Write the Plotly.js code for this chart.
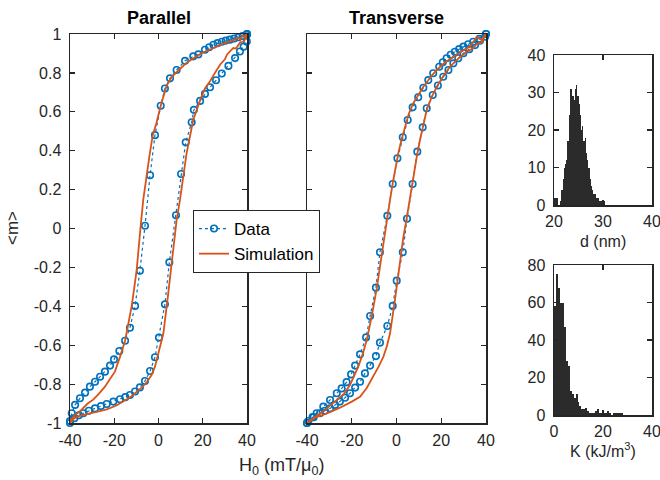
<!DOCTYPE html>
<html>
<head>
<meta charset="utf-8">
<script src="https://cdn.plot.ly/plotly-3.0.1.min.js"></script>
<style>html,body{margin:0;padding:0;background:#fff;}#chart{width:660px;height:480px;}</style>
</head>
<body>
<div id="chart"></div>
<script>
// ---------- Parallel: measured data ----------
var parDescH = [40, 39.9, 38, 36.1, 34.2, 32.3, 30.4, 28.6, 26.7, 24.8, 22.9, 21, 18, 15.7, 12, 8.2, 5.2, 2.9, 1.0, -1.6, -3.8, -6.1, -8.4, -10.6, -12.9, -15.1, -17.7, -20.1, -21.9, -24.2, -26.4, -28.7, -31, -33.2, -35.5, -37.7, -39.2, -40];
var parDescM = [1.0, 0.995, 0.99, 0.983, 0.977, 0.971, 0.966, 0.96, 0.953, 0.945, 0.932, 0.919, 0.895, 0.885, 0.862, 0.815, 0.772, 0.72, 0.631, 0.48, 0.274, 0.014, -0.217, -0.398, -0.51, -0.577, -0.63, -0.673, -0.705, -0.736, -0.762, -0.788, -0.813, -0.844, -0.873, -0.907, -0.95, -0.99];
var parAscH = [-40, -38, -36, -34, -31.5, -28.7, -26, -23.4, -20.4, -17.4, -15, -12.9, -10.6, -8.4, -6.1, -3.8, -1.6, 0.2, 2.9, 4.9, 7.9, 10.2, 12.3, 15, 16, 18.8, 21, 23.3, 26, 28.6, 31.6, 34.6, 36.8, 38.5, 39.9, 40];
var parAscM = [-1.0, -0.975, -0.96, -0.95, -0.937, -0.925, -0.913, -0.902, -0.89, -0.878, -0.867, -0.856, -0.838, -0.817, -0.784, -0.733, -0.662, -0.561, -0.39, -0.174, 0.068, 0.28, 0.443, 0.546, 0.61, 0.656, 0.692, 0.726, 0.762, 0.797, 0.836, 0.876, 0.91, 0.935, 0.962, 1.0];
// ---------- Parallel: simulation ----------
var parSimDescH = [40, 39, 38, 37, 36, 34, 32.3, 30, 28, 24.8, 20, 17.2, 13, 9.7, 6, 3.7, 1.0, -1.0, -2.6, -4, -5.3, -6.9, -8.05, -9.9, -12.1, -14.1, -15.1, -17.4, -19.7, -22, -24.2, -27, -29.5, -32, -35.5, -38, -40];
var parSimDescM = [1.0, 0.985, 0.992, 0.972, 0.982, 0.968, 0.962, 0.955, 0.945, 0.928, 0.905, 0.885, 0.855, 0.82, 0.78, 0.735, 0.631, 0.54, 0.48, 0.38, 0.274, 0.147, 0.014, -0.217, -0.398, -0.51, -0.577, -0.66, -0.736, -0.775, -0.813, -0.85, -0.88, -0.9, -0.94, -0.962, -0.99];
var parSimAscH = [-40, -38, -36, -33, -31, -27, -23.4, -19, -15.9, -12.5, -9.9, -7.5, -5.3, -3.2, -1.6, 0.7, 2.2, 4.4, 6.4, 8.2, 9.7, 10.5, 12.7, 15.7, 18.8, 21, 23.3, 25.5, 27.8, 30, 31, 33.8, 35, 37, 38.5, 39.9, 40];
var parSimAscM = [-1.0, -0.975, -0.965, -0.958, -0.95, -0.94, -0.93, -0.91, -0.89, -0.865, -0.84, -0.817, -0.79, -0.755, -0.71, -0.608, -0.54, -0.333, -0.128, 0.044, 0.147, 0.215, 0.387, 0.558, 0.66, 0.72, 0.757, 0.8, 0.842, 0.87, 0.895, 0.928, 0.925, 0.958, 0.96, 0.988, 1.0];
// ---------- Transverse: measured data ----------
var trDescH = [40, 37, 34.3, 32, 29.9, 28, 26.1, 24.2, 22.4, 20.7, 19.1, 16.4, 14.2, 12, 9.7, 7.2, 5, 2.8, 0.4, -1.7, -4.1, -7.4, -9.2, -11.8, -13.6, -16.3, -18.5, -20.3, -22.3, -24.5, -26.7, -29.7, -32.7, -35.7, -37.5, -39.4, -40];
var trDescM = [1.0, 0.975, 0.96, 0.947, 0.935, 0.922, 0.909, 0.893, 0.875, 0.855, 0.832, 0.798, 0.763, 0.724, 0.675, 0.623, 0.558, 0.469, 0.361, 0.229, 0.065, -0.122, -0.304, -0.45, -0.56, -0.647, -0.705, -0.75, -0.79, -0.822, -0.847, -0.882, -0.916, -0.95, -0.97, -0.99, -1.0];
var trAscH = [-40, -37, -34.2, -32, -29.7, -27.5, -25.3, -23, -20.8, -18.5, -16.3, -14.1, -11.8, -9.2, -7.4, -4.1, -1.7, 0.1, 2.8, 4.7, 7.2, 9.3, 11.7, 13.5, 16.2, 18.5, 20.9, 23.2, 25.4, 27.6, 29.9, 32.5, 35.1, 37.3, 39.6, 40];
var trAscM = [-1.0, -0.97, -0.95, -0.937, -0.925, -0.907, -0.89, -0.87, -0.847, -0.818, -0.788, -0.745, -0.705, -0.656, -0.587, -0.501, -0.398, -0.268, -0.122, 0.05, 0.229, 0.395, 0.52, 0.618, 0.686, 0.735, 0.78, 0.815, 0.849, 0.875, 0.901, 0.922, 0.943, 0.965, 0.986, 1.0];
// ---------- Transverse: simulation ----------
var trSimDescH = [40, 38, 36, 34, 32.8, 29, 25.4, 21.5, 18, 15, 12, 9.5, 7.5, 5.5, 3.8, 2.2, 0.8, -0.5, -1.7, -3, -4.1, -5.4, -6.6, -7.7, -8.8, -10, -11.1, -13.3, -15.2, -17.1, -19, -20.8, -23.5, -26, -29, -32.7, -36, -40];
var trSimDescM = [1.0, 0.97, 0.985, 0.95, 0.935, 0.91, 0.883, 0.852, 0.815, 0.775, 0.729, 0.685, 0.644, 0.59, 0.523, 0.455, 0.387, 0.31, 0.232, 0.14, 0.06, -0.035, -0.128, -0.22, -0.307, -0.385, -0.453, -0.573, -0.65, -0.71, -0.762, -0.805, -0.85, -0.875, -0.905, -0.94, -0.965, -1.0];
var trSimAscH = [-40, -36, -32, -28, -25, -20, -16.3, -13.3, -10.4, -8, -5.9, -4.3, -2.9, -1.8, -0.7, 0.5, 1.6, 3, 4.5, 6, 7.5, 9, 10.5, 12, 13.5, 15.7, 18, 21, 23.9, 27.5, 31.4, 34, 36, 38, 39.6, 40];
var trSimAscM = [-1.0, -0.97, -0.955, -0.935, -0.92, -0.89, -0.865, -0.82, -0.762, -0.71, -0.66, -0.605, -0.54, -0.46, -0.368, -0.265, -0.162, -0.05, 0.05, 0.16, 0.266, 0.365, 0.455, 0.535, 0.609, 0.675, 0.729, 0.785, 0.832, 0.872, 0.909, 0.925, 0.95, 0.955, 0.986, 1.0];
// ---------- Histogram of d (nm) ----------
var dBinWidth = 0.25;
var dBinStart = [20, 20.25, 20.5, 20.75, 21, 21.25, 21.5, 21.75, 22, 22.25, 22.5, 22.75, 23, 23.25, 23.5, 23.75, 24, 24.25, 24.5, 24.75, 25, 25.25, 25.5, 25.75, 26, 26.25, 26.5, 26.75, 27, 27.25, 27.5, 27.75, 28, 28.25, 28.5, 28.75, 29, 29.25, 29.5, 29.75, 30, 30.25];
var dCounts =   [2, 2, 2, 0, 0, 1, 4, 7, 10, 11, 12, 17, 24, 31, 31, 29, 28, 31, 32, 29, 27, 24, 20, 21, 17, 18, 14, 12, 10, 7, 5, 4, 3, 3, 2, 2, 2, 1, 1, 1, 1, 1];
// ---------- Histogram of K (kJ/m^3) ----------
var kBinWidth = 0.8;
var kBinStart = [0, 0.8, 1.6, 2.4, 3.2, 4.0, 4.8, 5.6, 6.4, 7.2, 8.0, 8.8, 9.6, 10.4, 11.2, 12.0, 12.8, 13.6, 14.4, 15.2, 16.0, 16.8, 17.6, 18.4, 19.2, 20.0, 20.8, 21.6, 22.4, 23.2, 24.0, 24.8, 25.6, 26.4, 27.2];
var kCounts =   [58, 75, 68, 60, 60, 47, 29, 26, 13, 11, 9, 11, 7, 5, 3, 3, 4, 2, 1, 1, 1, 2, 3, 1, 1, 1, 1, 2, 1, 0, 1, 1, 1, 1, 1];
// ---------- Tick labels ----------
var hTickVals = [-40, -20, 0, 20, 40];
var hTickText = ['-40', '-20', '0', '20', '40'];
var mTickVals = [-1, -0.8, -0.6, -0.4, -0.2, 0, 0.2, 0.4, 0.6, 0.8, 1];
var mTickText = ['-1', '-0.8', '-0.6', '-0.4', '-0.2', '0', '0.2', '0.4', '0.6', '0.8', '1'];
var dTickVals = [20, 30, 40];
var dTickText = ['20', '30', '40'];
var dCountTicks = [0, 10, 20, 30, 40];
var dCountText = ['0', '10', '20', '30', '40'];
var kTickVals = [0, 20, 40];
var kTickText = ['0', '20', '40'];
var kCountTicks = [0, 20, 40, 60, 80];
var kCountText = ['0', '20', '40', '60', '80'];

var BLUE = '#0072BD', ORANGE = '#D95319', AX = '#262626';
var FONT = 'Liberation Sans, Arial, Helvetica, sans-serif';

function dataTrace(h1, m1, h2, m2, xa, ya, show) {
  return {x: h1.concat(h2), y: m1.concat(m2), xaxis: xa, yaxis: ya, type: 'scatter', mode: 'lines+markers',
    name: 'Data', showlegend: show, cliponaxis: false,
    line: {color: BLUE, width: 1.2, dash: 'dot'},
    marker: {symbol: 'circle-open', size: 6.5, color: BLUE, line: {color: BLUE, width: 1.6}}};
}
function simTrace(h1, m1, h2, m2, xa, ya, show) {
  return {x: h1.concat(h2), y: m1.concat(m2), xaxis: xa, yaxis: ya, type: 'scatter', mode: 'lines',
    name: 'Simulation', showlegend: show, cliponaxis: false, line: {color: ORANGE, width: 1.8}};
}

var traces = [
  dataTrace(parDescH, parDescM, parAscH, parAscM, 'x', 'y', true),
  simTrace(parSimDescH, parSimDescM, parSimAscH, parSimAscM, 'x', 'y', true),
  dataTrace(trDescH, trDescM, trAscH, trAscM, 'x2', 'y2', false),
  simTrace(trSimDescH, trSimDescM, trSimAscH, trSimAscM, 'x2', 'y2', false),
  {type: 'bar', x: dBinStart, y: dCounts, width: dBinWidth, offset: 0, xaxis: 'x3', yaxis: 'y3', showlegend: false,
    marker: {color: '#2b2b2b', line: {width: 0}}},
  {type: 'bar', x: kBinStart, y: kCounts, width: kBinWidth, offset: 0, xaxis: 'x4', yaxis: 'y4', showlegend: false,
    marker: {color: '#2b2b2b', line: {width: 0}}}
];

function axis(extra) {
  var a = {showline: true, linecolor: AX, linewidth: 1.5, mirror: 'ticks', ticks: 'inside', ticklen: 5,
    tickwidth: 1.2, tickcolor: AX, showgrid: false, zeroline: false, fixedrange: true,
    ticklabeloverflow: 'allow', automargin: false,
    tickfont: {family: FONT, size: 16, color: AX}, tickmode: 'array'};
  for (var k in extra) a[k] = extra[k];
  return a;
}
var W = 660, H = 480;
var yMain = [1 - 423 / H, 1 - 34 / H];
function ann(text, px, py, size, extra) {
  var a = {text: text, x: px / W, y: 1 - py / H, xref: 'paper', yref: 'paper', xanchor: 'center', yanchor: 'middle',
    showarrow: false, font: {family: FONT, size: size, color: '#000'}};
  for (var k in extra) a[k] = extra[k];
  return a;
}
var layout = {
  width: W, height: H, margin: {l: 0, r: 0, t: 0, b: 0}, paper_bgcolor: '#fff', plot_bgcolor: '#fff',
  bargap: 0, showlegend: true,
  font: {family: FONT, color: AX},
  xaxis: axis({domain: [70 / W, 247 / W], range: [-40, 40], tickvals: hTickVals, ticktext: hTickText, anchor: 'y', ticklabelstandoff: 2}),
  yaxis: axis({domain: yMain, range: [-1, 1], tickvals: mTickVals, ticktext: mTickText, anchor: 'x', ticklabelstandoff: 4}),
  xaxis2: axis({domain: [307 / W, 486 / W], range: [-40, 40], tickvals: hTickVals, ticktext: hTickText, anchor: 'y2', ticklabelstandoff: 2}),
  yaxis2: axis({domain: yMain, range: [-1, 1], tickvals: mTickVals, ticktext: mTickText, showticklabels: false, anchor: 'x2'}),
  xaxis3: axis({domain: [554 / W, 652 / W], range: [20, 40], tickvals: dTickVals, ticktext: dTickText, anchor: 'y3', ticklabelstandoff: 1}),
  yaxis3: axis({domain: [1 - 205 / H, 1 - 55 / H], range: [0, 40], tickvals: dCountTicks, ticktext: dCountText, anchor: 'x3', ticklabelstandoff: 4}),
  xaxis4: axis({domain: [554 / W, 652 / W], range: [0, 40], tickvals: kTickVals, ticktext: kTickText, anchor: 'y4', ticklabelstandoff: 1}),
  yaxis4: axis({domain: [1 - 415 / H, 1 - 265 / H], range: [0, 80], tickvals: kCountTicks, ticktext: kCountText, anchor: 'x4', ticklabelstandoff: 4}),
  legend: {x: 193 / W, y: 1 - 210 / H, xanchor: 'left', yanchor: 'top', bgcolor: '#fff', bordercolor: AX, borderwidth: 1,
    font: {family: FONT, size: 17, color: '#000'}, tracegroupgap: 0, itemwidth: 30},
  annotations: [
    ann('<b>Parallel</b>', 158.5, 18, 18),
    ann('<b>Transverse</b>', 396.5, 18, 18),
    ann('&lt;m&gt;', 12, 228, 17, {textangle: -90, font: {family: FONT, size: 17, color: AX}}),
    ann('H<sub>0</sub> (mT/μ<sub>0</sub>)', 281, 466, 18, {font: {family: FONT, size: 18, color: AX}}),
    ann('d (nm)', 603, 241, 16, {font: {family: FONT, size: 16, color: AX}}),
    ann('K (kJ/m<sup>3</sup>)', 603, 450, 16, {font: {family: FONT, size: 16, color: AX}})
  ]
};
Plotly.newPlot('chart', traces, layout, {displayModeBar: false, staticPlot: true});
</script>
</body>
</html>
